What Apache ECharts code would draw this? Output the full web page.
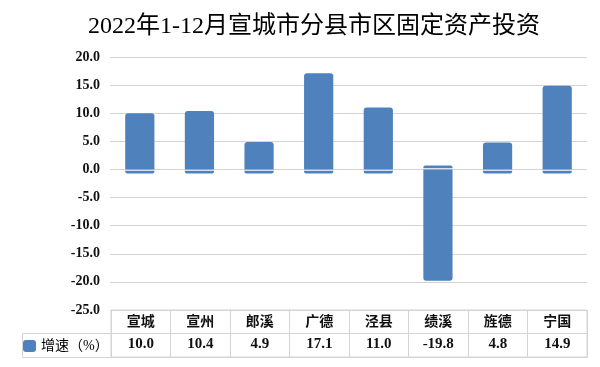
<!DOCTYPE html>
<html><head><meta charset="utf-8">
<script src="https://cdn.jsdelivr.net/npm/echarts@6/dist/echarts.min.js"></script>
</head><body style="margin:0;background:#fff">
<div id="c" style="width:600px;height:367px"></div>
<script>
const titleText = '2022年1-12月宣城市分县市区固定资产投资';
const categories = ['宣城', '宣州', '郎溪', '广德', '泾县', '绩溪', '旌德', '宁国'];
const values = [10.0, 10.4, 4.9, 17.1, 11.0, -19.8, 4.8, 14.9];
const seriesName = '增速（%）';
const yMin = -25, yMax = 20, yStep = 5;

const serif = "'Liberation Serif','Noto Sans CJK SC',serif";
const cjk = "'Liberation Serif','Noto Sans CJK SC',sans-serif";
const lineColor = '#d4d4d4';
const barColor = '#4f81bd';

const chart = echarts.init(document.getElementById('c'), null, {renderer: 'canvas'});
chart.setOption({
  animation: false,
  backgroundColor: '#fff',
  title: {
    text: titleText, left: 83, top: 10,
    textStyle: {fontFamily: serif, fontSize: 24, fontWeight: 'normal', color: '#000'}
  },
  legend: {
    data: [seriesName], left: 23, top: 339, itemWidth: 13, itemHeight: 12, icon: 'roundRect',
    padding: 0, selectedMode: false,
    textStyle: {fontFamily: cjk, fontSize: 14, color: '#000'}
  },
  grid: [
    {left: 110, right: 13, top: 57, bottom: 57},
    {left: 111, right: 13, top: 310, bottom: 10, show: true, borderColor: lineColor, borderWidth: 1}
  ],
  xAxis: [
    {type: 'category', gridIndex: 0, data: categories,
     axisLine: {show: false}, axisTick: {show: false}, axisLabel: {show: false}},
    {type: 'category', gridIndex: 1, data: categories, position: 'top',
     axisLine: {show: true, lineStyle: {color: lineColor}}, axisTick: {show: false},
     splitLine: {show: true, lineStyle: {color: lineColor}},
     axisLabel: {inside: true, margin: 5, fontFamily: cjk, fontSize: 14, fontWeight: 'bold', color: '#111'}},
    {type: 'category', gridIndex: 1, data: categories, position: 'bottom',
     axisLine: {show: true, lineStyle: {color: lineColor}}, axisTick: {show: false},
     axisLabel: {inside: true, margin: 5, fontFamily: serif, fontSize: 15, fontWeight: 'bold', color: '#111',
       formatter: (v, i) => values[i].toFixed(1)}}
  ],
  yAxis: [
    {type: 'value', gridIndex: 0, min: yMin, max: yMax, interval: yStep,
     axisLine: {show: false}, axisTick: {show: false},
     splitLine: {show: true, lineStyle: {color: lineColor}},
     axisLabel: {margin: 10, fontFamily: serif, fontSize: 14, fontWeight: 'bold', color: '#111',
       formatter: v => v.toFixed(1)}},
    {type: 'value', gridIndex: 1, min: 0, max: 2, interval: 1,
     axisLine: {show: false}, axisTick: {show: false}, axisLabel: {show: false},
     splitLine: {show: true, lineStyle: {color: lineColor}}}
  ],
  graphic: [{
    type: 'polyline', silent: true,
    shape: {points: [[111, 333.5], [22.5, 333.5], [22.5, 357.5], [111, 357.5]]},
    style: {stroke: lineColor, fill: null, lineWidth: 1}
  }],
  series: [{
    name: seriesName, type: 'custom', xAxisIndex: 0, yAxisIndex: 0,
    itemStyle: {color: barColor},
    encode: {x: 0, y: 1},
    data: values.map((v, i) => [i, v]),
    renderItem: function (params, api) {
      const i = api.value(0), v = api.value(1);
      const top = api.coord([i, v]);
      const zero = api.coord([i, 0]);
      const bw = api.size([1, 0])[0] * 0.49;
      const x = top[0] - bw / 2;
      const color = api.visual('color');
      const pos = v >= 0;
      const gap = 1.2, stub = 2.8, r = 3;
      const mainY = Math.min(top[1], zero[1]);
      const mainH = Math.abs(zero[1] - top[1]);
      return {
        type: 'group',
        children: [
          {type: 'rect', shape: {x: x, y: mainY, width: bw, height: mainH, r: pos ? [r, r, 0, 0] : [0, 0, r, r]},
           style: {fill: color}},
          {type: 'rect', shape: {x: x, y: pos ? zero[1] + gap : zero[1] - gap - stub, width: bw, height: stub,
             r: pos ? [0, 0, 2, 2] : [2, 2, 0, 0]}, style: {fill: color}}
        ]
      };
    }
  }]
});
</script>
</body></html>
